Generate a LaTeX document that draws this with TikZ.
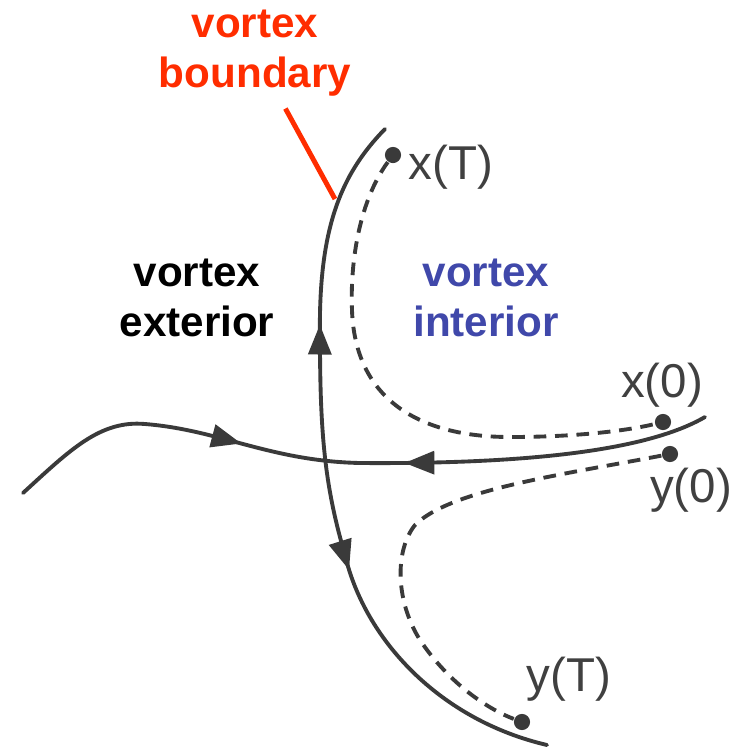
\documentclass[tikz,border=0pt]{standalone}
\usepackage{fontspec}
\setmainfont{Liberation Sans}
\usetikzlibrary{arrows.meta}
\usetikzlibrary{decorations.markings}

\definecolor{trazo}{RGB}{58,58,58}
\definecolor{texto}{RGB}{64,64,64}
\definecolor{rojo}{RGB}{255,45,0}
\definecolor{azul}{RGB}{64,72,170}

\tikzset{
  curva/.style={draw=trazo, line width=1.1pt, line cap=round},
  camino/.style={draw=trazo, line width=1.1pt, dash pattern=on 3.6pt off 2.5pt},
  punto/.style={circle, fill=trazo, inner sep=0pt, minimum size=4.6pt},
  etiqueta/.style={text=texto, font=\fontsize{13.5}{16}\selectfont},
  rotulo/.style={font=\bfseries\fontsize{12}{14.2}\selectfont, align=center},
  flechaen/.style={postaction={decorate, decoration={markings,
      mark=at position #1 with {\arrow[trazo]{Triangle[length=8.5pt,width=6.5pt]}}}}},
  flechacontra/.style={postaction={decorate, decoration={markings,
      mark=at position #1 with {\arrowreversed[trazo]{Triangle[length=8.5pt,width=6.5pt]}}}}}
}

\begin{document}
\begin{tikzpicture}[x=0.01cm, y=-0.01cm]
  \useasboundingbox (0,0) rectangle (737,747);

  % Rótulos
  \node[rotulo, text=rojo] (frontera) at (255,53) {vortex\\boundary};
  \node[rotulo] (exterior) at (197,298) {vortex\\exterior};
  \node[rotulo, text=azul] (interior) at (486,298) {vortex\\interior};

  % Frontera del vórtice
  \coordinate (b1) at (385,129);
  \coordinate (b2) at (320,340);
  \coordinate (b3) at (345,555);
  \coordinate (b4) at (547,745);
  \coordinate (toque) at (335,199);
  \draw[curva, flechacontra=2.12cm, flechaen=4.6cm]
    (b1) .. controls (340,175) and (318,230) .. (b2)
         .. controls (320,440) and (326,490) .. (b3)
         .. controls (365,640) and (440,720) .. (b4);
  \draw[rojo, line width=1.4pt] (frontera) -- (toque);

  % Trayectoria horizontal
  \coordinate (h1) at (23,493);
  \coordinate (h2) at (145,424);
  \coordinate (h3) at (360,463);
  \coordinate (h4) at (705,417);
  \draw[curva, flechaen=2.43cm, flechacontra=4.08cm]
    (h1) .. controls (70,450) and (100,420) .. (h2)
         .. controls (220,430) and (270,461) .. (h3)
         .. controls (500,464) and (640,455) .. (h4);

  % Puntos y caminos punteados
  \node[punto] (xT) at (393,155) {};
  \node[punto] (x0) at (663,422) {};
  \node[punto] (y0) at (670,454) {};
  \node[punto] (yT) at (522,722) {};
  \draw[camino] (xT) .. controls (360,200) and (350,260) .. (352,310)
                     .. controls (355,400) and (420,437) .. (510,437)
                     .. controls (580,437) and (630,430) .. (x0);
  \draw[camino] (y0) .. controls (560,475) and (450,490) .. (415,525)
                     .. controls (395,550) and (395,600) .. (420,640)
                     .. controls (450,685) and (490,710) .. (yT);

  \node[etiqueta] (lxT) at (451,167) {x(T)};
  \node[etiqueta] (lx0) at (662,385) {x(0)};
  \node[etiqueta] (ly0) at (691,490) {y(0)};
  \node[etiqueta] (lyT) at (569,679) {y(T)};
\end{tikzpicture}
\end{document}
